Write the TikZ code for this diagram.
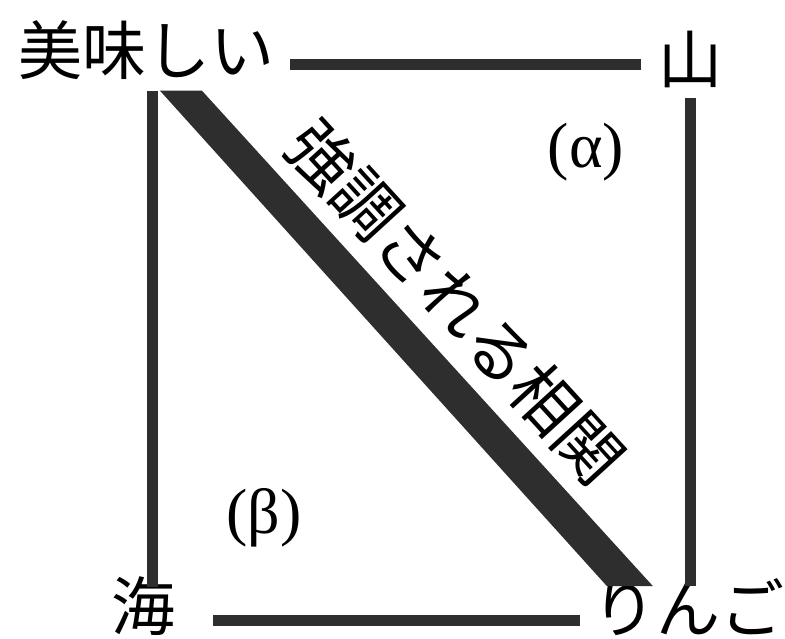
\documentclass[tikz,border=0pt]{standalone}
\usepackage{fontspec}
\newfontfamily\jpfont{Noto Sans CJK JP}
\newfontfamily\grfont{Liberation Serif}

\begin{document}
\begin{tikzpicture}[
    x=1pt, y=-1pt,
    word/.style={font=\jpfont\fontsize{64pt}{64pt}\selectfont, inner sep=0pt},
    greek/.style={font=\grfont\fontsize{64pt}{64pt}\selectfont, inner sep=0pt},
    link/.style={draw=black!82, line width=11pt},
    band/.style={fill=black!82}
]
    \useasboundingbox (0,0) rectangle (785,638);

    \node[word] (umai) at (147,50) {美味しい};
    \node[word] (yama) at (690,59) {山};
    \node[word] (umi) at (143,606) {海};
    \node[word] (ringo) at (688,607) {りんご};
    \node[greek] (alpha) at (586,152) {(α)};
    \node[greek] (beta) at (264,518) {(β)};
    \node[word, rotate=-47.6, font=\jpfont\fontsize{66pt}{66pt}\selectfont] (corr) at (456,302) {強調される相関};

    \draw[link] ([xshift=15pt,yshift=-14pt]umai.east) -- ([xshift=-17pt,yshift=-14pt]umai.east -| yama.west);
    \draw[link] ([yshift=-10pt]yama.south) -- ([yshift=-8pt]yama.south |- ringo.north);
    \draw[link] ([xshift=5pt,yshift=-11pt]umai.south) -- ([xshift=5pt,yshift=-11pt]umai.south |- umi.north);
    \draw[link] ([xshift=38pt,yshift=-14pt]umi.east) -- ([xshift=-12pt,yshift=-14pt]umi.east -| ringo.west);
    \fill[band] ([xshift=13pt,yshift=-11pt]umai.south) -- ([xshift=55pt,yshift=-11pt]umai.south)
        -- ([xshift=-35pt,yshift=-8pt]ringo.north) -- ([xshift=-81pt,yshift=-8pt]ringo.north) -- cycle;
\end{tikzpicture}
\end{document}
